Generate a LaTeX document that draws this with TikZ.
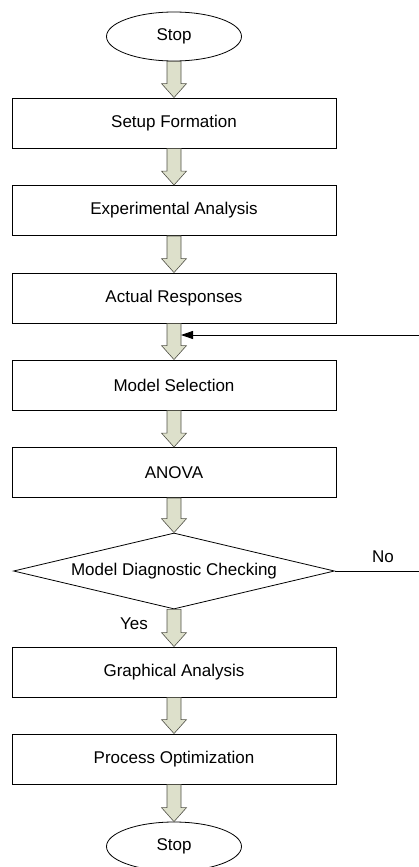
\documentclass[tikz,border=0pt]{standalone}
\usepackage{fontspec}
\setmainfont{Liberation Sans}
\usetikzlibrary{shapes.geometric,calc,arrows.meta}
\definecolor{arrfill}{RGB}{221,224,203}
\definecolor{arrline}{RGB}{80,80,70}
\tikzset{
  txt/.style={font=\fontsize{17}{20}\selectfont},
  procbox/.style={draw,txt,line width=0.9pt,minimum width=324pt,minimum height=50pt,inner sep=0pt},
  termnode/.style={ellipse,draw,txt,line width=0.8pt,minimum width=135pt,minimum height=49pt,inner sep=0pt},
  decnode/.style={diamond,draw,txt,line width=0.8pt,aspect=4.2,minimum width=321pt,minimum height=76pt,inner sep=0pt},
  fatarrow/.style={fill=arrfill,draw=arrline,line width=0.6pt,line join=miter},
}
\newcommand{\flowarrow}[2]{%
  \draw[fatarrow] ($(#1.south)+(-7,0)$) -- ($(#2.north)+(-7,14)$) -- ($(#2.north)+(-12.5,14)$)
    -- (#2.north) -- ($(#2.north)+(12.5,14)$) -- ($(#2.north)+(7,14)$) -- ($(#1.south)+(7,0)$) -- cycle;}

\begin{document}
\begin{tikzpicture}[x=1pt,y=1pt]
\useasboundingbox (0,0) rectangle (419,-867);
\node[termnode] (start) at (174,-36.5) {Stop};
\node[procbox] (setup) at (174,-123) {Setup Formation};
\node[procbox] (expan) at (174,-210.5) {Experimental Analysis};
\node[procbox] (actual) at (174,-298) {Actual Responses};
\node[procbox] (modsel) at (174,-385) {Model Selection};
\node[procbox] (anova) at (174,-472.5) {ANOVA};
\node[decnode] (diag) at (174,-571) {Model Diagnostic Checking};
\node[procbox] (graph) at (174,-672) {Graphical Analysis};
\node[procbox] (optim) at (174,-759) {Process Optimization};
\node[termnode] (stop) at (174,-846.5) {Stop};
% block arrows
\flowarrow{start}{setup}
\flowarrow{setup}{expan}
\flowarrow{expan}{actual}
\flowarrow{actual}{modsel}
\flowarrow{modsel}{anova}
\flowarrow{anova}{diag}
\flowarrow{diag}{graph}
\flowarrow{graph}{optim}
\flowarrow{optim}{stop}
% loop back on No
\coordinate (noend) at (419,0);
\coordinate (retin) at (419,-335);
\draw[line width=0.9pt] (diag.east) -- (diag.east -| noend);
\draw[line width=0.9pt,-{Triangle[length=12pt,width=8pt]}] (retin) -- ($(retin -| actual.south)+(7,0)$);
\node[txt] (nolbl) at (383,-557) {No};
\node[txt] (yeslbl) at (134,-624) {Yes};
\end{tikzpicture}
\end{document}
